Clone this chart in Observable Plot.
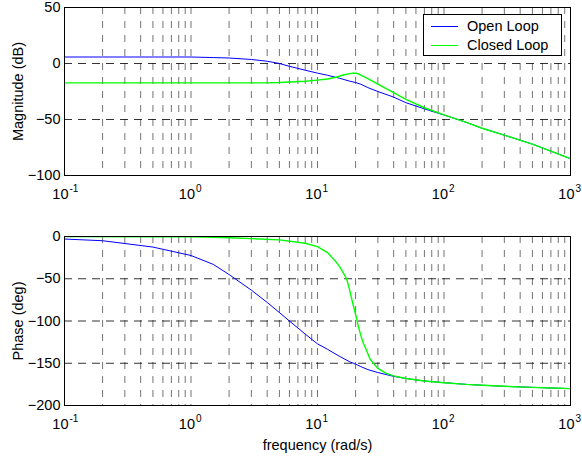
<!DOCTYPE html>
<html><head><meta charset="utf-8">
<script src="https://cdn.jsdelivr.net/npm/d3@7"></script>
<script src="https://cdn.jsdelivr.net/npm/@observablehq/plot@0.6"></script>
<style>
body{margin:0;background:#fff;font-family:"Liberation Sans",Arial,sans-serif;}
#wrap{position:relative;width:582px;height:456px;overflow:hidden;}
#wrap svg{display:block;}
.legend{position:absolute;left:423px;top:14px;width:137px;height:40px;border:1px solid #000;background:#fff;font-size:14.5px;color:#000;}
.legend .row{position:absolute;left:0;height:18px;line-height:18px;}
.legend .sw{position:absolute;left:7px;top:9px;width:27px;height:0;border-top:1px solid;}
.legend .lab{position:absolute;left:43px;top:0;white-space:nowrap;}
</style></head><body><div id="wrap"></div>
<script>
// ---- data ----
const freq = [0.1,0.2,0.5,1,1.5,2,3,4,5,6,8,10,12,15,18,20,22,25,30,40,50,70,100,150,200,300,500,700,1000];
const openMag = [5.8,5.8,5.8,5.8,5.3,4.9,3.6,2.0,0.0,-2.5,-6.0,-8.6,-10.5,-13.2,-15.8,-17.0,-18.5,-21.5,-25,-30,-35,-40.5,-46,-52.5,-57.8,-64,-72,-78.3,-85];
const openPhase = [-3,-5,-12.5,-22.5,-33,-45,-63.5,-78,-90,-100,-115.5,-127,-133.5,-142,-148.3,-151,-154,-157.5,-161,-165.5,-168,-171,-173,-175,-176,-177.3,-178.5,-179.3,-180];

const freqClosedMag = [0.1,1,4,5,8,10,12,14,16,18,19,20,21,22,25,30,40,50,70,100,150,200,300,500,700,1000];
const closedMag = [-17.3,-17.3,-17.3,-17.0,-15.8,-14.8,-13.8,-12.3,-10.3,-9.0,-8.7,-8.7,-9.2,-10.3,-13.5,-18.5,-26,-32,-39.5,-45.8,-52.5,-57.8,-64,-72,-78.3,-85];

const freqClosedPhase = [0.1,0.5,1,1.5,2,3,5,8,10,12,14,15,16,17,18,19,20,21,22,23,24,26,28,30,35,40,50,70,100,150,200,300,500,700,1000];
const closedPhase = [0,-0.3,-0.5,-1,-1.5,-2.5,-4,-8,-12,-19,-30,-36,-43,-50,-64,-79,-92,-106,-117,-126,-132,-145,-151,-156,-162,-165,-168,-171,-173,-175,-176,-177.3,-178.5,-179.3,-180];

const decades = [0.1,1,10,100,1000];
const exponents = ["-1","0","1","2","3"];
const magTicks = [50,0,-50,-100];
const phaseTicks = [0,-50,-100,-150,-200];
const seriesNames = ["Open Loop","Closed Loop"];
const seriesColors = ["#0000ff","#00ff00"];

// grid positions: 2..9 x each decade plus decades (excluding frame edges)
const gridX = [];
decades.slice(0,-1).forEach(d => { for (let k = 1; k <= 9; k++) { const v = d*k; if (v > decades[0]) gridX.push(v); } });
gridX.push(decades[decades.length-1]);

const toRows = (xs, ys) => xs.map((f,i) => ({f, v: ys[i]}));

function panel({height, marginTop, marginBottom, yTicks, yLabel, lines, xLabel}) {
  const yDomain = d3.extent(yTicks);
  const marks = [
    Plot.ruleX(gridX.filter(v => v < decades[decades.length-1]), {stroke:"#000", strokeOpacity:0.55, strokeDasharray:"7,7"}),
    Plot.ruleY(yTicks.filter(v => v > yDomain[0] && v < yDomain[1]), {stroke:"#000", strokeOpacity:0.8, strokeDasharray:"8,6"}),
    ...lines.map(l => Plot.line(toRows(l.x, l.y), {x:"f", y:"v", stroke:l.color, strokeWidth:l.w, clip:true})),
    Plot.frame({stroke:"#000", strokeWidth:1}),
    Plot.axisY({ticks:yTicks, tickSize:0, tickPadding:4, label:yLabel, labelAnchor:"center", labelArrow:"none", labelOffset:52, fontSize:14.5}),
    Plot.text(decades, {x:d=>d, text:()=>"10", frameAnchor:"bottom", textAnchor:"end", lineAnchor:"bottom", dx:4, dy:23, fontSize:14.5}),
    Plot.text(decades, {x:d=>d, text:(d,i)=>exponents[i], frameAnchor:"bottom", textAnchor:"start", lineAnchor:"bottom", dx:5, dy:16, fontSize:10})
  ];
  if (xLabel) marks.push(Plot.text([xLabel], {frameAnchor:"bottom", lineAnchor:"bottom", dy:44, fontSize:14.5}));
  return Plot.plot({
    width:582, height, marginLeft:64, marginRight:12, marginTop, marginBottom,
    style:{fontFamily:"'Liberation Sans', Arial, sans-serif", fontSize:"14.5px", color:"#000", background:"#fff", overflow:"visible"},
    x:{type:"log", domain:[decades[0], decades[decades.length-1]], axis:null},
    y:{domain:yDomain},
    marks
  });
}

const wrap = document.getElementById("wrap");
wrap.appendChild(panel({
  height:220, marginTop:7, marginBottom:45, yTicks:magTicks, yLabel:"Magnitude (dB)",
  lines:[{x:freq, y:openMag, color:seriesColors[0], w:1}, {x:freqClosedMag, y:closedMag, color:seriesColors[1], w:1.4}]
}));
wrap.appendChild(panel({
  height:236, marginTop:16, marginBottom:51, yTicks:phaseTicks, yLabel:"Phase (deg)",
  lines:[{x:freq, y:openPhase, color:seriesColors[0], w:1}, {x:freqClosedPhase, y:closedPhase, color:seriesColors[1], w:1.4}],
  xLabel:"frequency (rad/s)"
}));

// legend
const lg = document.createElement("div");
lg.className = "legend";
seriesNames.forEach((name, i) => {
  const row = document.createElement("div");
  row.className = "row";
  row.style.top = (2 + i*19) + "px";
  row.style.width = "137px";
  const sw = document.createElement("span");
  sw.className = "sw";
  sw.style.borderTopColor = seriesColors[i];
  const lab = document.createElement("span");
  lab.className = "lab";
  lab.textContent = name;
  row.appendChild(sw); row.appendChild(lab);
  lg.appendChild(row);
});
wrap.appendChild(lg);
</script>
</body></html>
